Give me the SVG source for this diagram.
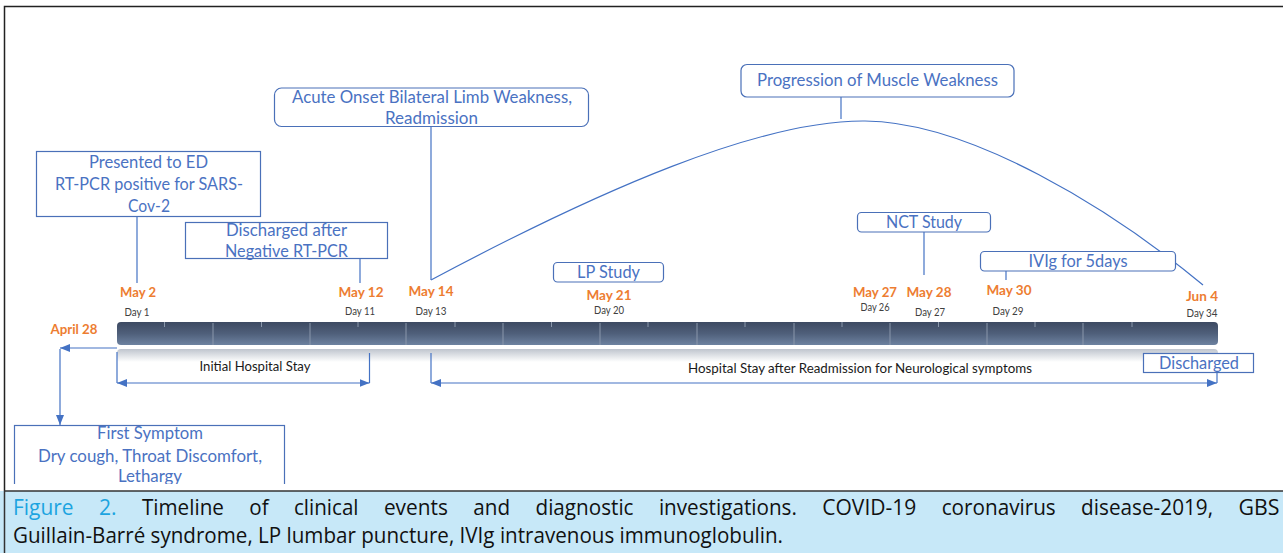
<svg xmlns="http://www.w3.org/2000/svg" width="1283" height="553" viewBox="0 0 1283 553">
<style>
.box{fill:#fff;stroke:#4a70b8;stroke-width:1.2}
.bt{font-family:Lato,"Open Sans",sans-serif;font-size:17px;fill:#4a72c2;text-anchor:middle}
.dt{font-family:Lato,"Open Sans",sans-serif;font-weight:bold;font-size:14px;fill:#ed7d31;text-anchor:middle}
.dy{font-family:Lato,"Open Sans",sans-serif;font-size:10.5px;fill:#404040;text-anchor:middle}
.st{font-family:Lato,"Open Sans",sans-serif;font-size:13.5px;fill:#1a1a1a;text-anchor:middle}
.cn{stroke:#4472c4;stroke-width:1.2;fill:none}
.sep{stroke:#8a97ab;stroke-width:1}
.cap{font-family:"Open Sans","Liberation Sans",sans-serif;font-size:21px;fill:#111}
.fig{fill:#1ca4e0}
</style>
<defs>
<linearGradient id="bar" x1="0" y1="0" x2="0" y2="1">
<stop offset="0" stop-color="#3d4a62"/>
<stop offset="0.5" stop-color="#4f5f7a"/>
<stop offset="1" stop-color="#6d82a0"/>
</linearGradient>
<linearGradient id="refl" x1="0" y1="0" x2="0" y2="1">
<stop offset="0" stop-color="#bfc5ce"/>
<stop offset="1" stop-color="#ffffff"/>
</linearGradient>
<marker id="ah" markerUnits="userSpaceOnUse" markerWidth="10" markerHeight="8" refX="10" refY="4" orient="auto-start-reverse">
<path d="M0,0 L10,4 L0,8 z" fill="#4472c4"/>
</marker>
<clipPath id="clipFS"><rect x="0" y="400" width="400" height="84"/></clipPath>
</defs>
<rect x="0" y="0" width="1283" height="553" fill="#fff"/>
<path d="M4.5,553 V6.5 H1283" fill="none" stroke="#222" stroke-width="1.5"/>

<g id="timeline">
<rect x="117" y="349" width="1101" height="13" rx="4" fill="url(#refl)"/>
<rect x="117" y="322" width="1101" height="23" rx="4" fill="url(#bar)"/>
<g class="sep">
<line x1="213" y1="323" x2="213" y2="345"/><line x1="310" y1="323" x2="310" y2="345"/><line x1="406" y1="323" x2="406" y2="345"/><line x1="503" y1="323" x2="503" y2="345"/><line x1="600" y1="323" x2="600" y2="345"/><line x1="697" y1="323" x2="697" y2="345"/><line x1="794" y1="323" x2="794" y2="345"/><line x1="890" y1="323" x2="890" y2="345"/><line x1="987" y1="323" x2="987" y2="345"/><line x1="1083" y1="323" x2="1083" y2="345"/>
</g>
<g class="sep">
<line x1="164.5" y1="322" x2="164.5" y2="327"/><line x1="261.5" y1="322" x2="261.5" y2="327"/><line x1="358" y1="322" x2="358" y2="327"/><line x1="455" y1="322" x2="455" y2="327"/><line x1="551.5" y1="322" x2="551.5" y2="327"/><line x1="648" y1="322" x2="648" y2="327"/><line x1="745" y1="322" x2="745" y2="327"/><line x1="842" y1="322" x2="842" y2="327"/><line x1="938.5" y1="322" x2="938.5" y2="327"/><line x1="1035" y1="322" x2="1035" y2="327"/><line x1="1132" y1="322" x2="1132" y2="327"/>
</g>
<text class="dt" x="74" y="334" textLength="47" lengthAdjust="spacingAndGlyphs">April 28</text>
<text class="dt" x="138" y="297" textLength="36" lengthAdjust="spacingAndGlyphs">May 2</text>
<text class="dy" x="137" y="316" textLength="25" lengthAdjust="spacingAndGlyphs">Day 1</text>
<text class="dt" x="361" y="297" textLength="45" lengthAdjust="spacingAndGlyphs">May 12</text>
<text class="dy" x="360" y="315" textLength="30" lengthAdjust="spacingAndGlyphs">Day 11</text>
<text class="dt" x="431" y="296" textLength="45" lengthAdjust="spacingAndGlyphs">May 14</text>
<text class="dy" x="431" y="315" textLength="31" lengthAdjust="spacingAndGlyphs">Day 13</text>
<text class="dt" x="609" y="300" textLength="45" lengthAdjust="spacingAndGlyphs">May 21</text>
<text class="dy" x="609" y="314" textLength="30" lengthAdjust="spacingAndGlyphs">Day 20</text>
<text class="dt" x="875" y="297" textLength="44" lengthAdjust="spacingAndGlyphs">May 27</text>
<text class="dy" x="875" y="311" textLength="29" lengthAdjust="spacingAndGlyphs">Day 26</text>
<text class="dt" x="929" y="297" textLength="45" lengthAdjust="spacingAndGlyphs">May 28</text>
<text class="dy" x="930" y="316" textLength="30" lengthAdjust="spacingAndGlyphs">Day 27</text>
<text class="dt" x="1009" y="295" textLength="45" lengthAdjust="spacingAndGlyphs">May 30</text>
<text class="dy" x="1008" y="315" textLength="31" lengthAdjust="spacingAndGlyphs">Day 29</text>
<text class="dt" x="1202" y="301" textLength="32" lengthAdjust="spacingAndGlyphs">Jun 4</text>
<text class="dy" x="1202" y="317" textLength="31" lengthAdjust="spacingAndGlyphs">Day 34</text>
<text class="st" x="255" y="371" textLength="111" lengthAdjust="spacingAndGlyphs">Initial Hospital Stay</text>
<text class="st" x="860" y="373" textLength="344" lengthAdjust="spacingAndGlyphs">Hospital Stay after Readmission for Neurological symptoms</text>
</g>

<g id="connectors">
<line class="cn" x1="137" y1="217" x2="137" y2="283"/>
<line class="cn" x1="360" y1="259" x2="360" y2="283"/>
<line class="cn" x1="431" y1="127" x2="431" y2="280"/>
<line class="cn" x1="841" y1="97" x2="841" y2="119"/>
<line class="cn" x1="924" y1="232" x2="924" y2="275"/>
<line class="cn" x1="1006" y1="271" x2="1006" y2="280"/>
<path class="cn" d="M431,280 C600,190 760,120 865,121 S1110,208 1203,285"/>
<path class="cn" d="M117,348 H60" marker-end="url(#ah)"/>
<path class="cn" d="M60,349 V425" marker-end="url(#ah)"/>
<line class="cn" x1="117" y1="352" x2="117" y2="383"/>
<line class="cn" x1="369.5" y1="353" x2="369.5" y2="383"/>
<path class="cn" d="M117,383 H369.5" marker-start="url(#ah)" marker-end="url(#ah)"/>
<line class="cn" x1="431" y1="353" x2="431" y2="383"/>
<line class="cn" x1="1217" y1="373" x2="1217" y2="383"/>
<path class="cn" d="M431,383 H1217" marker-start="url(#ah)" marker-end="url(#ah)"/>
</g>

<g id="presented">
<rect class="box" x="36.5" y="151.5" width="224" height="65"/>
<text class="bt" x="148.5" y="168" textLength="119" lengthAdjust="spacingAndGlyphs">Presented to ED</text>
<text class="bt" x="149" y="190" textLength="188" lengthAdjust="spacingAndGlyphs">RT-PCR positive for SARS-</text>
<text class="bt" x="149" y="212" textLength="42" lengthAdjust="spacingAndGlyphs">Cov-2</text>
</g>
<g id="discharged-after">
<rect class="box" x="185.5" y="222.5" width="202" height="36"/>
<text class="bt" x="286.5" y="236" textLength="121" lengthAdjust="spacingAndGlyphs">Discharged after</text>
<text class="bt" x="286.5" y="257" textLength="123" lengthAdjust="spacingAndGlyphs">Negative RT-PCR</text>
</g>
<g id="acute-onset">
<rect class="box" x="274.5" y="88" width="314" height="38.5" rx="7"/>
<text class="bt" x="432" y="103" textLength="280" lengthAdjust="spacingAndGlyphs">Acute Onset Bilateral Limb Weakness,</text>
<text class="bt" x="431.5" y="124" textLength="93" lengthAdjust="spacingAndGlyphs">Readmission</text>
</g>
<g id="progression">
<rect class="box" x="741" y="64.5" width="273" height="32.5" rx="6"/>
<text class="bt" x="877.5" y="86" textLength="241" lengthAdjust="spacingAndGlyphs">Progression of Muscle Weakness</text>
</g>
<g id="lp-study">
<rect class="box" x="553.5" y="262.5" width="110" height="19.5" rx="4"/>
<text class="bt" x="608.5" y="278" textLength="63" lengthAdjust="spacingAndGlyphs">LP Study</text>
</g>
<g id="nct-study">
<rect class="box" x="857.5" y="212.5" width="133" height="19.5" rx="4"/>
<text class="bt" x="924" y="228" textLength="76" lengthAdjust="spacingAndGlyphs">NCT Study</text>
</g>
<g id="ivig">
<rect class="box" x="980.5" y="251.5" width="195" height="19.5" rx="4"/>
<text class="bt" x="1078" y="267" textLength="99" lengthAdjust="spacingAndGlyphs">IVIg for 5days</text>
</g>
<g id="discharged">
<rect class="box" x="1143.5" y="353.5" width="110" height="19"/>
<text class="bt" x="1199" y="369" textLength="80" lengthAdjust="spacingAndGlyphs">Discharged</text>
</g>
<g id="first-symptom" clip-path="url(#clipFS)">
<rect class="box" x="14.5" y="425.5" width="270" height="80"/>
<text class="bt" x="150" y="439" textLength="106" lengthAdjust="spacingAndGlyphs">First Symptom</text>
<text class="bt" x="150" y="462" textLength="224" lengthAdjust="spacingAndGlyphs">Dry cough, Throat Discomfort,</text>
<text class="bt" x="150" y="482" textLength="64" lengthAdjust="spacingAndGlyphs">Lethargy</text>
</g>

<g id="caption">
<rect x="0" y="491" width="1283" height="62" fill="#c7e8f8"/>
<line x1="4" y1="491" x2="1283" y2="491" stroke="#333" stroke-width="1.5"/>
<line x1="4.5" y1="491" x2="4.5" y2="553" stroke="#333" stroke-width="1.5"/>
<g class="cap">
<text class="fig" x="13" y="515" textLength="60.5" lengthAdjust="spacingAndGlyphs">Figure</text>
<text class="fig" x="98.9" y="515" textLength="17.6" lengthAdjust="spacingAndGlyphs">2.</text>
<text x="141.9" y="515" textLength="82" lengthAdjust="spacingAndGlyphs">Timeline</text>
<text x="249.3" y="515" textLength="19.3" lengthAdjust="spacingAndGlyphs">of</text>
<text x="294" y="515" textLength="64.5" lengthAdjust="spacingAndGlyphs">clinical</text>
<text x="383.9" y="515" textLength="64" lengthAdjust="spacingAndGlyphs">events</text>
<text x="473.3" y="515" textLength="36.8" lengthAdjust="spacingAndGlyphs">and</text>
<text x="535.5" y="515" textLength="98" lengthAdjust="spacingAndGlyphs">diagnostic</text>
<text x="658.9" y="515" textLength="138" lengthAdjust="spacingAndGlyphs">investigations.</text>
<text x="822.3" y="515" textLength="94" lengthAdjust="spacingAndGlyphs">COVID-19</text>
<text x="941.7" y="515" textLength="114" lengthAdjust="spacingAndGlyphs">coronavirus</text>
<text x="1081.1" y="515" textLength="132" lengthAdjust="spacingAndGlyphs">disease-2019,</text>
<text x="1238.5" y="515" textLength="41" lengthAdjust="spacingAndGlyphs">GBS</text>
<text x="13" y="543" textLength="770" lengthAdjust="spacingAndGlyphs">Guillain-Barré syndrome, LP lumbar puncture, IVIg intravenous immunoglobulin.</text>
</g>
</g>
</svg>
